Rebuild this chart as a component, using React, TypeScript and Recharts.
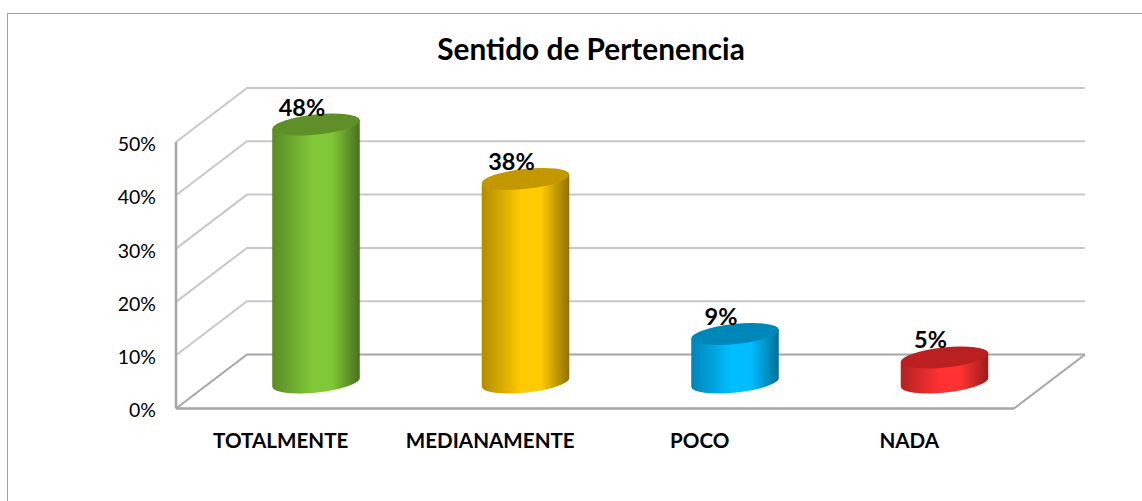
import { BarChart, Bar, XAxis, YAxis, CartesianGrid, LabelList } from "recharts";

const categories = ["TOTALMENTE", "MEDIANAMENTE", "POCO", "NADA"];
const values = [48.4, 38.2, 9.1, 4.7];
const yTicks = [0, 10, 20, 30, 40, 50];
const title = "Sentido de Pertenencia";

// center / edge / cap colours of each cylinder
const bodyCenter = ["#80c837", "#ffca00", "#00bdff", "#ff3131"];
const bodyLeft = ["#5a8a26", "#b08c00", "#0084b6", "#b42222"];
const bodyRight = ["#4a7020", "#8f7200", "#006f99", "#9c1c1c"];
const capColors = ["#5e8f28", "#c29700", "#0087b9", "#bb2020"];

const chartData = categories.map((name, i) => ({ name, value: values[i] }));

const FONT = "Lato, sans-serif";
const PLOT_LEFT = 176;
const PLOT_RIGHT = 1014;
const PLOT_TOP = 142;
const PLOT_BOTTOM = 408.5;
// depth of the fake 3D box, and where the cylinders sit inside it
const DEPTH_X = 71;
const DEPTH_Y = 54;
const BAR_SHIFT_X = 35;
const BAR_SHIFT_Y = 26;
const TILT = 6;
const RY = 10;

function GridLine(props: any) {
    const { x1, x2, y1 } = props;
    const isFloor = Math.abs(y1 - PLOT_BOTTOM) < 1;
    const backY = y1 - DEPTH_Y;
    const color = isFloor ? "#a6a6a6" : "#c8c8c8";
    return (
        <g fill="none" stroke={color} strokeWidth={2}>
            <polyline points={`${x1},${y1} ${x1 + DEPTH_X},${backY} ${x2 + DEPTH_X},${backY}`} />
            {isFloor && <line x1={x2} y1={y1} x2={x2 + DEPTH_X} y2={backY} />}
        </g>
    );
}

function Cylinder(props: any) {
    const { x, y, width, height, index } = props;
    const rx = width / 2;
    const cx = x + rx + BAR_SHIFT_X;
    const topY = y - BAR_SHIFT_Y;
    const botY = y + height - BAR_SHIFT_Y;
    const rad = (TILT * Math.PI) / 180;
    const dx = rx * Math.cos(rad);
    const dy = rx * Math.sin(rad);
    const body = `M${cx - dx},${topY + dy} L${cx - dx},${botY + dy} A${rx},${RY} ${-TILT} 0 0 ${cx + dx},${botY - dy} L${cx + dx},${topY - dy} Z`;
    return (
        <g>
            <path d={body} fill={`url(#cyl${index})`} />
            <ellipse cx={cx} cy={topY} rx={rx} ry={RY} transform={`rotate(${-TILT} ${cx} ${topY})`} fill={capColors[index]} />
        </g>
    );
}

function ValueLabel(props: any) {
    const { x, y, width, value } = props;
    return (
        <text
            x={x + width / 2 + BAR_SHIFT_X - 14}
            y={y - BAR_SHIFT_Y - 9}
            textAnchor="middle"
            fontFamily={FONT}
            fontWeight={700}
            fontSize={23.5}
            fill="#000"
        >
            {`${Math.round(value)}%`}
        </text>
    );
}

export default function App() {
    return (
        <div style={{ position: "absolute", left: 0, top: 0, width: 1142, height: 501, background: "#fff", overflow: "hidden" }}>
            <div style={{ position: "absolute", left: 7, top: 13, right: 0, bottom: 0, borderTop: "1px solid #a0a0a0", borderLeft: "1px solid #a0a0a0" }} />
            <BarChart
                width={1142}
                height={501}
                data={chartData}
                margin={{ top: PLOT_TOP, right: 1142 - PLOT_RIGHT, bottom: 0, left: 0 }}
                style={{ position: "absolute", left: 0, top: 0 }}
            >
                <defs>
                    {categories.map((c, i) => (
                        <linearGradient key={c} id={`cyl${i}`} x1="0" y1="0" x2="1" y2="0">
                            <stop offset="0%" stopColor={bodyLeft[i]} />
                            <stop offset="45%" stopColor={bodyCenter[i]} />
                            <stop offset="68%" stopColor={bodyCenter[i]} />
                            <stop offset="100%" stopColor={bodyRight[i]} />
                        </linearGradient>
                    ))}
                </defs>
                <text x={591} y={60} textAnchor="middle" fontFamily={FONT} fontWeight={700} fontSize={29.8} fill="#000">
                    {title}
                </text>
                <CartesianGrid vertical={false} horizontal={GridLine} />
                <XAxis
                    dataKey="name"
                    interval={0}
                    height={501 - PLOT_BOTTOM}
                    axisLine={{ stroke: "#a6a6a6", strokeWidth: 2.5 }}
                    tickLine={false}
                    tickMargin={19}
                    tick={{ fontFamily: FONT, fontWeight: 700, fontSize: 20.6, fill: "#000" }}
                />
                <YAxis
                    width={PLOT_LEFT}
                    domain={[0, 50]}
                    ticks={yTicks}
                    tickFormatter={(v: number) => `${v}%`}
                    axisLine={{ stroke: "#a6a6a6", strokeWidth: 2.5 }}
                    tickLine={false}
                    tickMargin={14}
                    tick={{ fontFamily: FONT, fontSize: 19.5, fill: "#000", dy: 2 }}
                />
                <Bar dataKey="value" barSize={88} shape={Cylinder} isAnimationActive={false}>
                    <LabelList dataKey="value" content={ValueLabel} />
                </Bar>
            </BarChart>
        </div>
    );
}
